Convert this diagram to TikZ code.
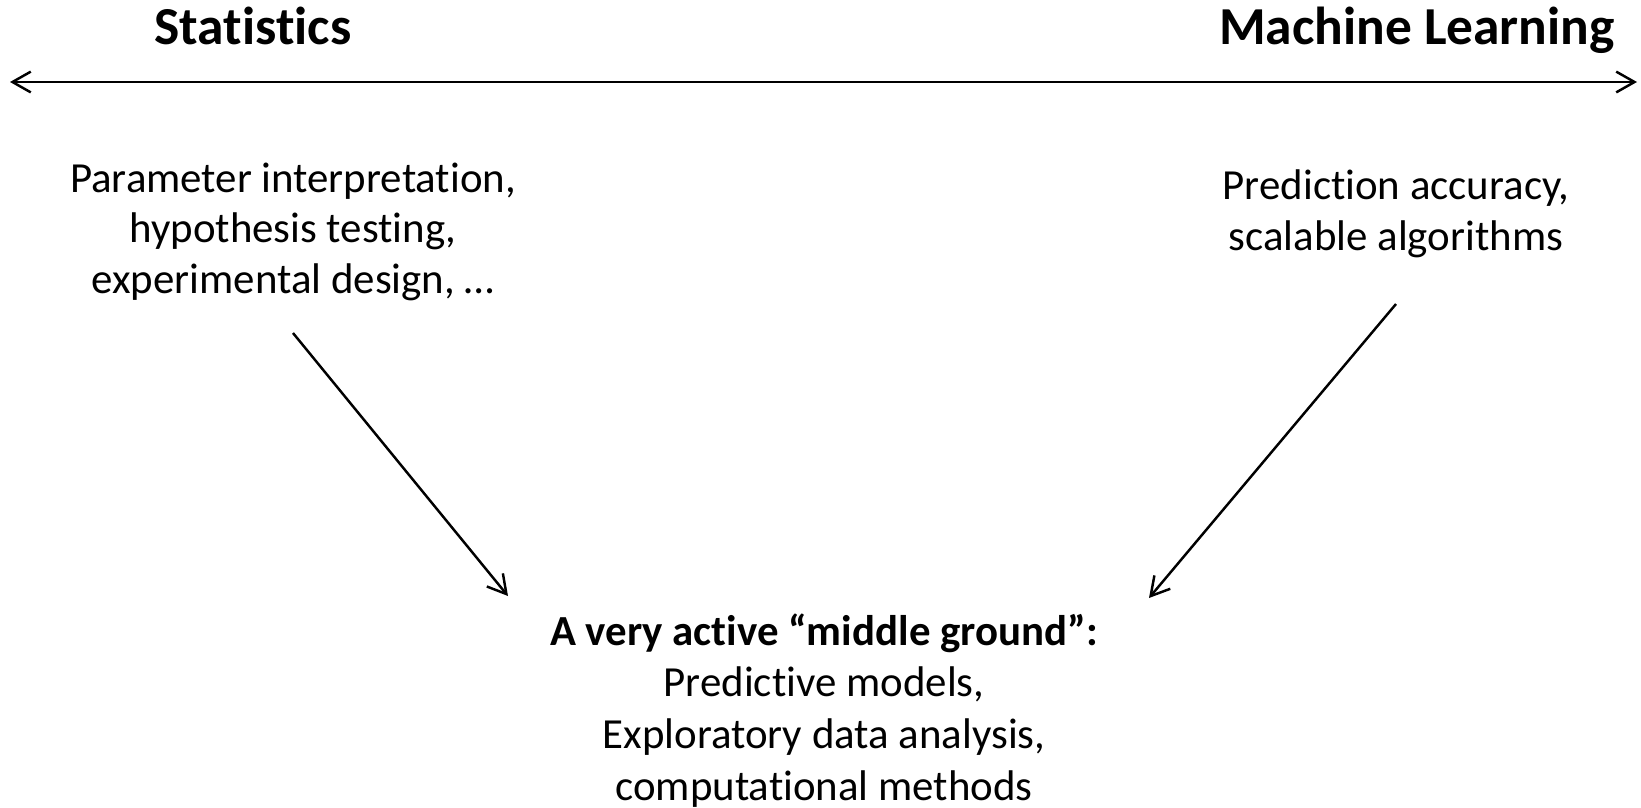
\documentclass[tikz,border=0pt]{standalone}
\usepackage{fontspec}
\setmainfont{Carlito}[Ligatures=NoCommon]
\usetikzlibrary{arrows.meta,positioning}
\tikzset{
  headline/.style={font=\fontsize{15.2pt}{18pt}\selectfont\bfseries, inner sep=0pt, anchor=base},
  bodytext/.style={font=\fontsize{12.2pt}{14.3pt}\selectfont, align=center, inner sep=0pt, anchor=base},
  barb/.tip={Straight Barb[length=5.2pt,width=5.9pt]},
  link/.style={-barb, line width=0.7pt}
}

\begin{document}
\begin{tikzpicture}
  \useasboundingbox (0,0) rectangle (16.41,-8.08);
  % the two ends of the scale
  \node[headline] (stats) at (2.53,-0.44) {Statistics};
  \node[headline] (ml) at (14.17,-0.44) {Machine Learning};
  \coordinate (leftend) at (0.10,-0.82);
  \coordinate (rightend) at (16.37,-0.82);
  \draw[barb-barb, line width=0.7pt] (leftend) -- (rightend);

  \node[bodytext] (statsgoal) at (2.93,-2.93) {Parameter interpretation,\\ hypothesis testing,\\ experimental design, …};
  \node[bodytext] (mlgoal) at (13.96,-2.50) {Prediction accuracy,\\ scalable algorithms};

  % middle ground
  \node[bodytext, font=\fontsize{12.2pt}{14.7pt}\selectfont] (middle) at (8.24,-8.00) {\textbf{A very active “middle ground”:}\\ Predictive models,\\ Exploratory data analysis,\\ computational methods};
  \coordinate (statsend) at (5.08,-5.96);
  \coordinate (mlend) at (11.49,-5.98);

  \draw[link] ([yshift=-4mm]statsgoal.base) -- (statsend);
  \draw[link] ([yshift=-5.4mm]mlgoal.base) -- (mlend);
\end{tikzpicture}
\end{document}
